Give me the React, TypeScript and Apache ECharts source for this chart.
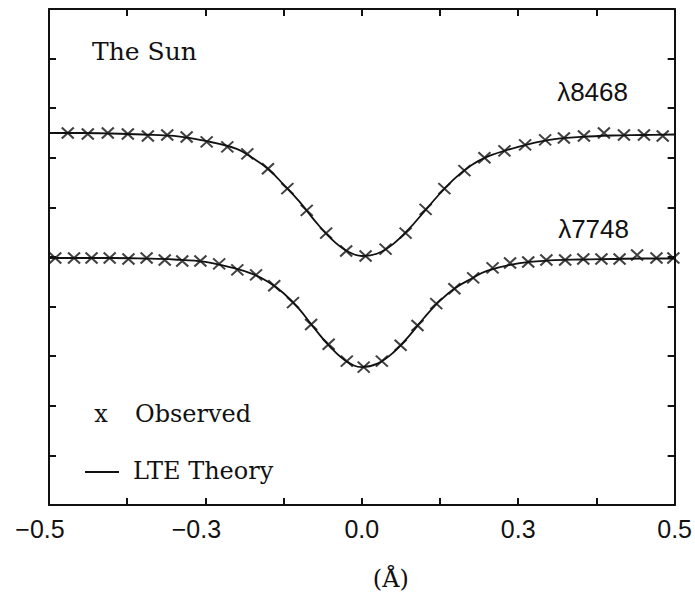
import { useEffect, useRef } from "react";
import * as echarts from "echarts";

// Observed points (x in Å from line centre, y in relative intensity units)
const obsUpperX = [-0.470, -0.438, -0.406, -0.374, -0.342, -0.311, -0.280, -0.248, -0.215, -0.183, -0.150, -0.119, -0.088, -0.057, -0.025, 0.006, 0.038, 0.070, 0.102, 0.132, 0.164, 0.196, 0.228, 0.261, 0.293, 0.323, 0.355, 0.387, 0.419, 0.451, 0.481];
const obsUpperY = [0.750, 0.748, 0.750, 0.748, 0.744, 0.746, 0.742, 0.732, 0.722, 0.708, 0.678, 0.638, 0.594, 0.548, 0.512, 0.502, 0.516, 0.548, 0.596, 0.638, 0.674, 0.700, 0.714, 0.726, 0.736, 0.740, 0.744, 0.750, 0.746, 0.746, 0.744];

const obsLowerX = [-0.490, -0.460, -0.432, -0.403, -0.373, -0.344, -0.315, -0.287, -0.258, -0.228, -0.199, -0.169, -0.140, -0.110, -0.081, -0.053, -0.024, 0.003, 0.032, 0.062, 0.089, 0.119, 0.148, 0.178, 0.209, 0.237, 0.266, 0.295, 0.325, 0.354, 0.383, 0.412, 0.440, 0.471, 0.498];
const obsLowerY = [0.498, 0.498, 0.498, 0.498, 0.496, 0.498, 0.494, 0.492, 0.492, 0.486, 0.474, 0.464, 0.442, 0.408, 0.364, 0.324, 0.290, 0.278, 0.290, 0.322, 0.362, 0.406, 0.436, 0.458, 0.478, 0.488, 0.490, 0.494, 0.494, 0.496, 0.496, 0.496, 0.504, 0.498, 0.498];

// LTE theory curves
const theoryX = [-0.5, -0.45, -0.4, -0.35, -0.3, -0.25, -0.2, -0.175, -0.15, -0.125, -0.1, -0.075, -0.05, -0.025, 0.0, 0.025, 0.05, 0.075, 0.1, 0.125, 0.15, 0.175, 0.2, 0.25, 0.3, 0.35, 0.4, 0.45, 0.5];
const theoryUpperY = [0.750, 0.750, 0.749, 0.747, 0.744, 0.734, 0.718, 0.700, 0.678, 0.646, 0.612, 0.573, 0.538, 0.513, 0.502, 0.507, 0.526, 0.556, 0.592, 0.628, 0.660, 0.685, 0.702, 0.722, 0.736, 0.742, 0.745, 0.746, 0.747];
const theoryLowerY = [0.498, 0.498, 0.498, 0.497, 0.495, 0.490, 0.476, 0.466, 0.450, 0.427, 0.395, 0.355, 0.318, 0.290, 0.278, 0.285, 0.307, 0.340, 0.378, 0.412, 0.438, 0.456, 0.472, 0.487, 0.493, 0.495, 0.496, 0.497, 0.497];

const xTickValues = [-0.5, -0.25, 0, 0.25, 0.5];
const xTickLabels = ["\u22120.5", "\u22120.3", "0.0", "0.3", "0.5"];

const lineLabels = ["\u03bb8468", "\u03bb7748"];
const titleText = "The Sun";
const legendObserved = "Observed";
const legendTheory = "LTE Theory";
const axisName = "(\u00c5)";

const INK = "#111";
const SERIF = "DejaVu Serif";
const SANS = "Liberation Sans";

export default function App() {
  const ref = useRef<HTMLDivElement>(null);
  useEffect(() => {
    if (!ref.current) return;
    const chart = echarts.init(ref.current, null, { renderer: "svg" });
    const pairs = (xs: number[], ys: number[]) => xs.map((x, i) => [x, ys[i]]);
    const crossSymbol = "path://M0,0 L10,10 M10,0 L0,10";
    const axisCommon = {
      type: "value" as const,
      axisLine: { show: true, onZero: false, lineStyle: { color: INK, width: 2 } },
      axisTick: { show: true, inside: true, length: 7, lineStyle: { color: INK, width: 2 } },
      splitLine: { show: false },
    };
    const fmt = (v: number) => {
      const idx = xTickValues.findIndex((t) => Math.abs(t - v) < 1e-9);
      if (idx < 0) return "";
      const s = xTickLabels[idx];
      return v < 0 ? `{neg|${s}}` : `{pos|${s}}`;
    };
    chart.setOption({
      animation: false,
      backgroundColor: "#fff",
      grid: { left: 49, right: 19, top: 9, bottom: 87 },
      xAxis: [
        {
          ...axisCommon,
          position: "bottom",
          min: -0.5,
          max: 0.5,
          interval: 0.125,
          axisLabel: {
            show: true,
            margin: 11,
            formatter: fmt,
            rich: {
              neg: { fontFamily: SANS, fontSize: 25, color: INK, padding: [0, 18, 0, 0] },
              pos: { fontFamily: SANS, fontSize: 25, color: INK },
            },
          },
          name: axisName,
          nameLocation: "middle",
          nameGap: 62,
          nameTextStyle: { fontFamily: SERIF, fontSize: 24, color: INK, padding: [0, 0, 0, 58] },
        },
        {
          ...axisCommon,
          position: "top",
          min: -0.5,
          max: 0.5,
          interval: 0.125,
          axisLabel: { show: false },
        },
      ],
      yAxis: [
        { ...axisCommon, position: "left", min: 0, max: 1, interval: 0.1, axisLabel: { show: false } },
        { ...axisCommon, position: "right", min: 0, max: 1, interval: 0.1, axisLabel: { show: false } },
      ],
      series: [
        {
          type: "line",
          data: pairs(theoryX, theoryUpperY),
          smooth: 0.4,
          symbol: "none",
          lineStyle: { color: INK, width: 1.8 },
        },
        {
          type: "line",
          data: pairs(theoryX, theoryLowerY),
          smooth: 0.4,
          symbol: "none",
          lineStyle: { color: INK, width: 1.8 },
        },
        {
          type: "scatter",
          data: pairs(obsUpperX, obsUpperY),
          symbol: crossSymbol,
          symbolSize: [12, 11],
          itemStyle: { color: "transparent", borderColor: INK, borderWidth: 2 },
        },
        {
          type: "scatter",
          data: pairs(obsLowerX, obsLowerY),
          symbol: crossSymbol,
          symbolSize: [12, 11],
          itemStyle: { color: "transparent", borderColor: INK, borderWidth: 2 },
        },
      ],
      graphic: [
        {
          type: "text",
          x: 92,
          y: 51,
          style: { text: titleText, font: `25px '${SERIF}'`, fill: INK, textAlign: "left", textVerticalAlign: "middle" },
        },
        {
          type: "text",
          x: 628,
          y: 92,
          style: { text: lineLabels[0], font: `26px '${SANS}'`, fill: INK, textAlign: "right", textVerticalAlign: "middle" },
        },
        {
          type: "text",
          x: 629,
          y: 229,
          style: { text: lineLabels[1], font: `26px '${SANS}'`, fill: INK, textAlign: "right", textVerticalAlign: "middle" },
        },
        {
          type: "text",
          x: 101,
          y: 414,
          style: { text: "x", font: `24px '${SERIF}'`, fill: INK, textAlign: "center", textVerticalAlign: "middle" },
        },
        {
          type: "text",
          x: 135,
          y: 414,
          style: { text: legendObserved, font: `24px '${SERIF}'`, fill: INK, textAlign: "left", textVerticalAlign: "middle" },
        },
        {
          type: "line",
          shape: { x1: 85, y1: 472, x2: 119, y2: 472 },
          style: { stroke: INK, lineWidth: 1.8 },
        },
        {
          type: "text",
          x: 133,
          y: 471,
          style: { text: legendTheory, font: `24px '${SERIF}'`, fill: INK, textAlign: "left", textVerticalAlign: "middle" },
        },
      ],
    });
    return () => chart.dispose();
  }, []);
  return (
    <div
      ref={ref}
      style={{ position: "absolute", left: 0, top: 0, width: 695, height: 596, background: "#fff" }}
    />
  );
}
